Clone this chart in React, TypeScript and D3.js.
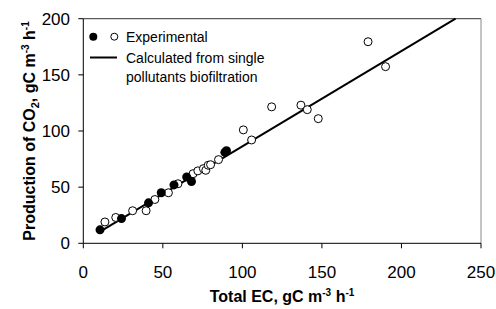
import React from 'react';
import * as d3 from 'd3';

// Experimental points: [Total EC, CO2 production]
const filledPoints: [number, number][] = [
  [10.5, 12], [24, 22], [41, 36], [49, 45], [57, 52], [65, 59], [68, 55], [89, 81], [90, 82.5],
];
const openPoints: [number, number][] = [
  [13.6, 19], [20.4, 23], [31, 29], [39.5, 29], [45, 39], [53.5, 45], [59.5, 53],
  [69, 62], [72, 64.5], [75.5, 66.5], [77, 65], [78.5, 69.5], [80, 70], [85, 74.5],
  [100.6, 101], [105.8, 92], [118.4, 121.5], [136.8, 123], [140.8, 119], [147.7, 111],
  [179, 179.5], [190, 157.3],
];
// calculated line from single pollutants biofiltration
const calcLine: [number, number][] = [[10, 10], [234, 200]];

const xTicks = [0, 50, 100, 150, 200, 250];
const yTicks = [0, 50, 100, 150, 200];

const W = 496;
const H = 309;

export default function App() {
  const x = d3.scaleLinear().domain([0, 250]).range([83.3, 481]);
  const y = d3.scaleLinear().domain([0, 200]).range([243.3, 18.7]);
  const line = d3.line<[number, number]>().x(d => x(d[0])).y(d => y(d[1]));
  const font = 'Arial, "Liberation Sans", sans-serif';

  return (
    <svg width={W} height={H} style={{ position: 'absolute', left: 0, top: 0, background: '#fff' }}
      fontFamily={font}>
      {/* frame */}
      <line x1={x(0)} x2={x(250)} y1={y(200)} y2={y(200)} stroke="#333" strokeWidth={1} />
      <line x1={x(250)} x2={x(250)} y1={y(200)} y2={y(0)} stroke="#888" strokeWidth={1} />
      {/* axes */}
      <line x1={x(0)} x2={x(0)} y1={y(200)} y2={y(0)} stroke="#000" strokeWidth={1} />
      <line x1={x(0)} x2={x(250)} y1={y(0)} y2={y(0)} stroke="#000" strokeWidth={1} />
      {yTicks.map(t => (
        <g key={'y' + t}>
          <line x1={x(0) - 5} x2={x(0)} y1={y(t)} y2={y(t)} stroke="#000" />
          <text x={70} y={y(t) + 6} textAnchor="end" fontSize={17}>{t}</text>
        </g>
      ))}
      {xTicks.map(t => (
        <g key={'x' + t}>
          <line x1={x(t)} x2={x(t)} y1={y(0)} y2={y(0) + 5} stroke="#000" />
          <text x={x(t)} y={278} textAnchor="middle" fontSize={17}>{t}</text>
        </g>
      ))}

      {/* calculated line */}
      <path d={line(calcLine) ?? ''} fill="none" stroke="#000" strokeWidth={2} />

      {/* points */}
      {openPoints.map((p, i) => (
        <circle key={'o' + i} cx={x(p[0])} cy={y(p[1])} r={4} fill="#fff" stroke="#000" strokeWidth={1} />
      ))}
      {filledPoints.map((p, i) => (
        <circle key={'f' + i} cx={x(p[0])} cy={y(p[1])} r={4.5} fill="#000" />
      ))}

      {/* legend */}
      <circle cx={93.3} cy={36.7} r={4} fill="#000" />
      <circle cx={114.3} cy={36.7} r={3.5} fill="#fff" stroke="#000" />
      <text x={126} y={41.5} fontSize={14}>Experimental</text>
      <line x1={90} x2={117} y1={57.5} y2={57.5} stroke="#000" strokeWidth={2} />
      <text x={126} y={63} fontSize={14}>Calculated from single</text>
      <text x={126} y={81.5} fontSize={14}>pollutants biofiltration</text>

      {/* axis titles */}
      <text x={282} y={302} textAnchor="middle" fontSize={16} fontWeight="bold">
        Total EC, gC m<tspan dy={-6} fontSize={10}>-3</tspan><tspan dy={6}> h</tspan>
        <tspan dy={-6} fontSize={10}>-1</tspan>
      </text>
      <text transform={`translate(35,131) rotate(-90)`} textAnchor="middle" fontSize={16} fontWeight="bold">
        Production of CO<tspan dy={4} fontSize={11}>2</tspan><tspan dy={-4}>, gC m</tspan>
        <tspan dy={-6} fontSize={10}>-3</tspan><tspan dy={6}> h</tspan>
        <tspan dy={-6} fontSize={10}>-1</tspan>
      </text>
    </svg>
  );
}
